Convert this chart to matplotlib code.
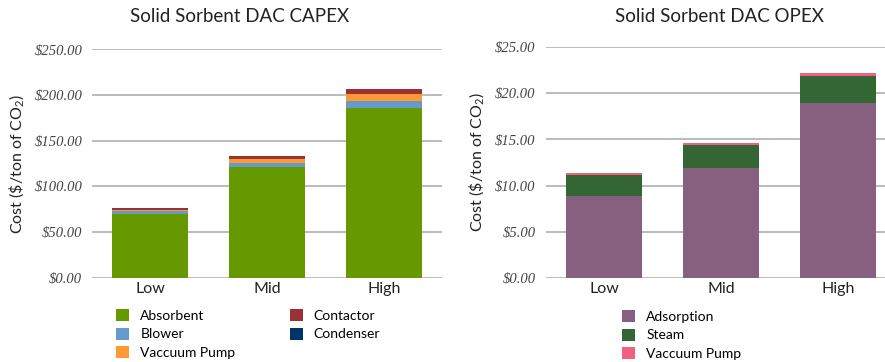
import numpy as np
import matplotlib
matplotlib.use("Agg")
import matplotlib.pyplot as plt
from matplotlib.ticker import FuncFormatter

plt.rcParams['font.family'] = ['Lato', 'DejaVu Sans']
plt.rcParams['mathtext.fontset'] = 'custom'
plt.rcParams['mathtext.rm'] = 'Lato'
plt.rcParams['mathtext.it'] = 'Lato:italic'

scenarios = ['Low', 'Mid', 'High']

# capital cost breakdown, $/ton CO2
capex_parts = ['Absorbent', 'Blower', 'Vaccuum Pump', 'Contactor', 'Condenser']
absorbent = [70.2, 121.2, 186.0]
blower = [3.0, 4.5, 7.7]
capex_vacuum = [0.6, 4.5, 7.7]
contactor = [2.6, 3.6, 5.5]
condenser = [0.0, 0.0, 0.0]

# operating cost breakdown, $/ton CO2
opex_parts = ['Adsorption', 'Steam', 'Vaccuum Pump']
adsorption = [8.9, 11.9, 19.0]
steam = [2.25, 2.5, 2.9]
opex_vacuum = [0.22, 0.22, 0.3]

capex_colors = ['#669900', '#6699cc', '#ff9933', '#993333', '#003366']
opex_colors = ['#86607e', '#336633', '#f06080']

tick_font = dict(family='Liberation Serif', style='italic', size=10.5)
text_color = '#222222'
ylabel = r'Cost (\$/ton of CO$_2$)'
legend_kw = dict(frameon=False, borderpad=0, handlelength=0.95, handleheight=0.95,
                 handletextpad=0.8, labelspacing=0.42, fontsize=10)


def dollars(v, pos):
    return '${:.2f}'.format(v)


def stacked(ax, series, labels, colors):
    x = np.arange(len(scenarios))
    bottom = np.zeros(len(scenarios))
    for vals, lab, col in zip(series, labels, colors):
        vals = np.array(vals)
        ax.bar(x, vals, 0.65, bottom=bottom, color=col, label=lab, zorder=3)
        bottom += vals
    ax.set_xticks(x)
    ax.set_xticklabels(scenarios, fontsize=11.5, color=text_color)
    ax.set_xlim(-0.5, len(scenarios) - 0.5)
    for s in ax.spines.values():
        s.set_visible(False)
    ax.grid(axis='y', color='#bbbbbb', lw=1.4, zorder=0)
    ax.tick_params(axis='both', length=0)
    ax.tick_params(axis='y', pad=7)
    ax.tick_params(axis='x', pad=3)
    ax.yaxis.set_major_formatter(FuncFormatter(dollars))
    ax.set_ylabel(ylabel, fontsize=11.5, color=text_color)


def style_yticks(ax):
    for t in ax.get_yticklabels():
        t.set_fontproperties(tick_font)
        t.set_color('#444444')


fig = plt.figure(figsize=(8.85, 3.62), dpi=100)

# CAPEX panel
ax1 = fig.add_axes([0.104, 0.2329, 0.3955, 0.6304])
ax1.set_ylim(0, 250)
ax1.set_yticks(np.arange(0, 251, 50))
stacked(ax1, [absorbent, blower, capex_vacuum, contactor, condenser], capex_parts, capex_colors)
style_yticks(ax1)
ax1.yaxis.set_label_coords(-0.19, 0.5)
fig.text(240 / 885, 1 - 17 / 362, 'Solid Sorbent DAC CAPEX', fontsize=13.5,
         color=text_color, ha='center', va='center')
ax1.legend(loc='upper left', bbox_to_anchor=(109 / 885, 1 - 302 / 362),
           bbox_transform=fig.transFigure, ncol=2, columnspacing=3.9, **legend_kw)

# OPEX panel
ax2 = fig.add_axes([0.6164, 0.2329, 0.3966, 0.6364])
ax2.set_ylim(0, 25)
ax2.set_yticks(np.arange(0, 26, 5))
stacked(ax2, [adsorption, steam, opex_vacuum], opex_parts, opex_colors)
style_yticks(ax2)
ax2.yaxis.set_label_coords(-0.17, 0.5)
fig.text(719 / 885, 1 - 17 / 362, 'Solid Sorbent DAC OPEX', fontsize=13.5,
         color=text_color, ha='center', va='center')
ax2.legend(loc='upper left', bbox_to_anchor=(615 / 885, 1 - 303 / 362),
           bbox_transform=fig.transFigure, ncol=1, **legend_kw)

fig.savefig('out.png', dpi=100)
